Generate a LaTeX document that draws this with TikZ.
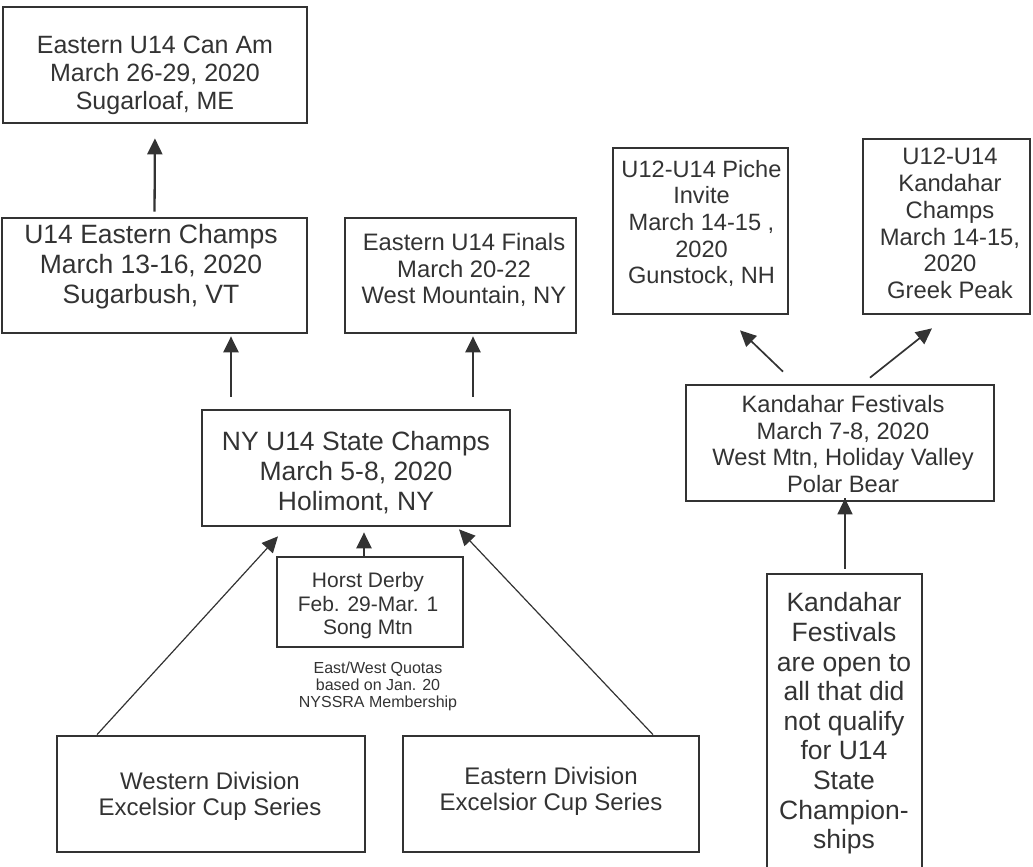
\documentclass[tikz,border=0pt]{standalone}
\usepackage{fontspec}
\setmainfont{Liberation Sans}
\usetikzlibrary{arrows.meta}
\definecolor{ink}{HTML}{333333}
\tikzset{
  box/.style={draw=ink, line width=2.7pt, rectangle, inner sep=0pt},
  txt/.style={align=center, text=ink, inner sep=0pt},
  arr/.style={draw=ink, -{Triangle[length=16pt,width=15pt]}},
  thickarr/.style={arr, line width=2.3pt},
  thinarr/.style={arr, line width=1.2pt},
  midarr/.style={arr, line width=1.7pt},
}
\newcommand{\fs}[2]{\fontsize{#1}{#2}\selectfont}
\begin{document}
\begin{tikzpicture}[x=1pt,y=-1pt]
\useasboundingbox (0,0) rectangle (1033,867);
\clip (0,0) rectangle (1033,867);
% boxes
\node[box, minimum width=304pt, minimum height=116pt] (canam) at (155,65) {};
\node[box, minimum width=305pt, minimum height=115pt] (champs) at (154.5,275.5) {};
\node[box, minimum width=231pt, minimum height=115pt] (finals) at (460.5,275.5) {};
\node[box, minimum width=175pt, minimum height=166pt] (piche) at (700.5,231) {};
\node[box, minimum width=167pt, minimum height=175pt] (kchamps) at (946.5,226.5) {};
\node[box, minimum width=308pt, minimum height=116pt] (ny) at (356,468) {};
\node[box, minimum width=308pt, minimum height=116pt] (kfest) at (840,443) {};
\node[box, minimum width=186pt, minimum height=90pt] (horst) at (370,602) {};
\node[box, minimum width=308pt, minimum height=116pt] (west) at (211,794) {};
\node[box, minimum width=296pt, minimum height=116pt] (east) at (551,794) {};
\node[box, minimum width=155pt, minimum height=326pt] (note) at (844.5,737) {};
% texts
\node[txt, font=\fs{25}{28}] (canamT) at (155,75) {Eastern U14 Can Am\\March 26-29, 2020\\Sugarloaf, ME};
\node[txt, font=\fs{26.5}{30}] (champsT) at (151,267) {U14 Eastern Champs\\March 13-16, 2020\\Sugarbush, VT};
\node[txt, font=\fs{23.8}{26.5}] (finalsT) at (464,270) {Eastern U14 Finals\\March 20-22\\West Mountain, NY};
\node[txt, font=\fs{23.6}{26.7}] (picheT) at (701.5,223.5) {U12-U14 Piche\\Invite\\March 14-15 ,\\2020\\Gunstock, NH};
\node[txt, font=\fs{23.8}{26.7}] (kchampsT) at (950,223.5) {U12-U14\\Kandahar\\Champs\\March 14-15,\\2020\\Greek Peak};
\node[txt, font=\fs{26.5}{30}] (nyT) at (356,473) {NY U14 State Champs\\March 5-8, 2020\\Holimont, NY};
\node[txt, font=\fs{23.7}{26.7}] (kfestT) at (843,444) {Kandahar Festivals\\March 7-8, 2020\\West Mtn, Holiday Valley\\Polar Bear};
\node[txt, font=\fs{21}{23.5}] (horstT) at (368,606) {Horst Derby\\Feb. 29-Mar. 1\\Song Mtn};
\node[txt, font=\fs{16}{17}] (quota) at (378,686) {East/West Quotas\\based on Jan. 20\\NYSSRA Membership};
\node[txt, font=\fs{24}{26}] (westT) at (210,796) {Western Division\\Excelsior Cup Series};
\node[txt, font=\fs{24}{26}] (eastT) at (551,791) {Eastern Division\\Excelsior Cup Series};
\node[txt, font=\fs{26.5}{29.6}] (noteT) at (844,723.5) {Kandahar\\Festivals\\are open to\\all that did\\not qualify\\for U14\\State\\Champion-\\ships};
% connectors
\draw[thickarr, shorten <=5pt, shorten >=14pt] (champs.north) -- (canam.south);
\draw[thickarr, shorten >=14pt] ([xshift=-125pt,yshift=12pt]ny.north) -- ([xshift=-125pt,yshift=12pt]ny.north |- champs.south);
\draw[thickarr, shorten >=14pt] ([xshift=117pt,yshift=12pt]ny.north) -- ([xshift=117pt,yshift=12pt]ny.north |- finals.south);
\draw[thickarr] ([xshift=-6pt]horst.north) -- ([xshift=-6pt,yshift=-5pt]horst.north |- ny.south);
\draw[thinarr] ([xshift=-114pt]west.north) -- ([xshift=-78pt,yshift=-9pt]ny.south);
\draw[thinarr] ([xshift=102pt]east.north) -- ([xshift=103pt,yshift=-2pt]ny.south);
\draw[midarr] ([xshift=-57pt,yshift=12pt]kfest.north) -- ([xshift=39.5pt,yshift=-15pt]piche.south);
\draw[midarr] ([xshift=30pt,yshift=6pt]kfest.north) -- ([xshift=-14.5pt,yshift=-13pt]kchamps.south);
\draw[midarr, line width=1.5pt] ([xshift=0.5pt,yshift=4pt]note.north) -- ([xshift=0.5pt,yshift=4pt]note.north |- kfest.south) ++(0,0);
\end{tikzpicture}
\end{document}
